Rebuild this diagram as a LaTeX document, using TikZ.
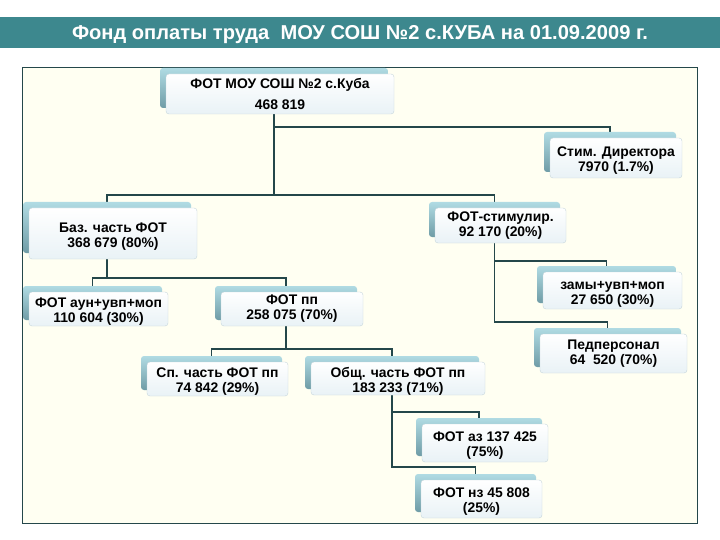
\documentclass[tikz,border=0pt]{standalone}
\usepackage{fontspec}
\setmainfont{Liberation Sans}
\usetikzlibrary{shadows,backgrounds}
\definecolor{bandcol}{HTML}{3D888E}
\definecolor{linecol}{HTML}{24474A}
\definecolor{pagecol}{HTML}{FFFFF2}
\definecolor{platetop}{HTML}{B0DBE3}
\definecolor{platebot}{HTML}{6F9CA6}
\definecolor{edgecol}{HTML}{C6D6DC}
\definecolor{facecol}{HTML}{E9F2F6}
\newcommand{\lowline}{\rule{0pt}{15pt}}
\tikzset{
  fotbox/.style={rectangle, rounded corners=3pt, draw=edgecol, top color=white, bottom color=facecol,
    inner sep=0pt, align=center, font=\fontsize{13.9}{15}\selectfont\bfseries,
    general shadow={shadow xshift=-6pt, shadow yshift=6pt, top color=platetop, bottom color=platebot}},
  link/.style={draw=linecol, line width=1.7pt},
}
\begin{document}
\begin{tikzpicture}[x=1pt,y=-1pt]
\useasboundingbox (0,0) rectangle (720,540);
\node[fotbox, minimum width=228, minimum height=40] (tid0) at (280,94) {ФОТ МОУ СОШ №2 с.Куба\\[6pt]468 819};
\node[fotbox, minimum width=132, minimum height=40] (tid1) at (616,158) {\lowline Стим. Директора\\7970 (1.7\%)};
\node[fotbox, minimum width=168, minimum height=51] (tid2) at (113,233.5) {\lowline Баз. часть ФОТ\\368 679 (80\%)};
\node[fotbox, minimum width=131, minimum height=35] (tid3) at (500.5,225.5) {ФОТ-стимулир.\\92 170 (20\%)};
\node[fotbox, minimum width=139, minimum height=37] (tid4) at (612.5,290.5) {\lowline замы+увп+моп\\27 650 (30\%)};
\node[fotbox, minimum width=147, minimum height=39] (tid5) at (613.5,353.5) {Педперсонал\\64\ \ 520 (70\%)};
\node[fotbox, minimum width=139, minimum height=34] (tid6) at (98.5,309) {\lowline ФОТ аун+увп+моп\\110 604 (30\%)};
\node[fotbox, minimum width=142, minimum height=34] (tid7) at (292,309) {ФОТ пп\\258 075 (70\%)};
\node[fotbox, minimum width=141, minimum height=34] (tid8) at (217.5,379) {\lowline Сп. часть ФОТ пп\\74 842 (29\%)};
\node[fotbox, minimum width=174, minimum height=33] (tid9) at (398,378.5) {\lowline Общ. часть ФОТ пп\\183 233 (71\%)};
\node[fotbox, minimum width=126, minimum height=38] (tid10) at (485,443) {\lowline ФОТ аз 137 425\\(75\%)};
\node[fotbox, minimum width=121, minimum height=38] (tid11) at (481.5,499) {\lowline ФОТ нз 45 808\\(25\%)};
\begin{scope}[on background layer]
\fill[bandcol] (0,17) rectangle (720,48);
\node[text=white, font=\fontsize{20.1}{22}\selectfont\bfseries] (title) at (360,35) {Фонд оплаты труда\ \ МОУ СОШ №2 с.КУБА на 01.09.2009 г.};
\draw[draw=linecol, fill=pagecol, line width=0.8pt] (22.5,67.5) rectangle (697,523);
\draw[link] ([xshift=-6pt]tid0.south) -- ++(0,13) -| ([xshift=-6pt]tid1.north);
\draw[link] ([xshift=-6pt]tid0.south) -- ++(0,81) -| ([xshift=-6pt]tid2.north);
\draw[link] ([xshift=-6pt]tid0.south) -- ++(0,81) -| ([xshift=-6pt]tid3.north);
\draw[link] ([xshift=-6pt]tid2.south) -- ++(0,19) -| ([xshift=-6pt]tid6.north);
\draw[link] ([xshift=-6pt]tid2.south) -- ++(0,19) -| ([xshift=-6pt]tid7.north);
\draw[link] ([xshift=-6pt]tid3.south) -- ++(0,18) -| ([xshift=-6pt]tid4.north);
\draw[link] ([xshift=-6pt]tid3.south) -- ++(0,79) -| ([xshift=-6pt]tid5.north);
\draw[link] ([xshift=-6pt]tid7.south) -- ++(0,23) -| ([xshift=-6pt]tid8.north);
\draw[link] ([xshift=-6pt]tid7.south) -- ++(0,23) -| ([xshift=-6pt]tid9.north);
\draw[link] ([xshift=-6pt]tid9.south) -- ++(0,17) -| ([xshift=-6pt]tid10.north);
\draw[link] ([xshift=-6pt]tid9.south) -- ++(0,72) -| ([xshift=-6pt]tid11.north);
\end{scope}
\end{tikzpicture}
\end{document}
